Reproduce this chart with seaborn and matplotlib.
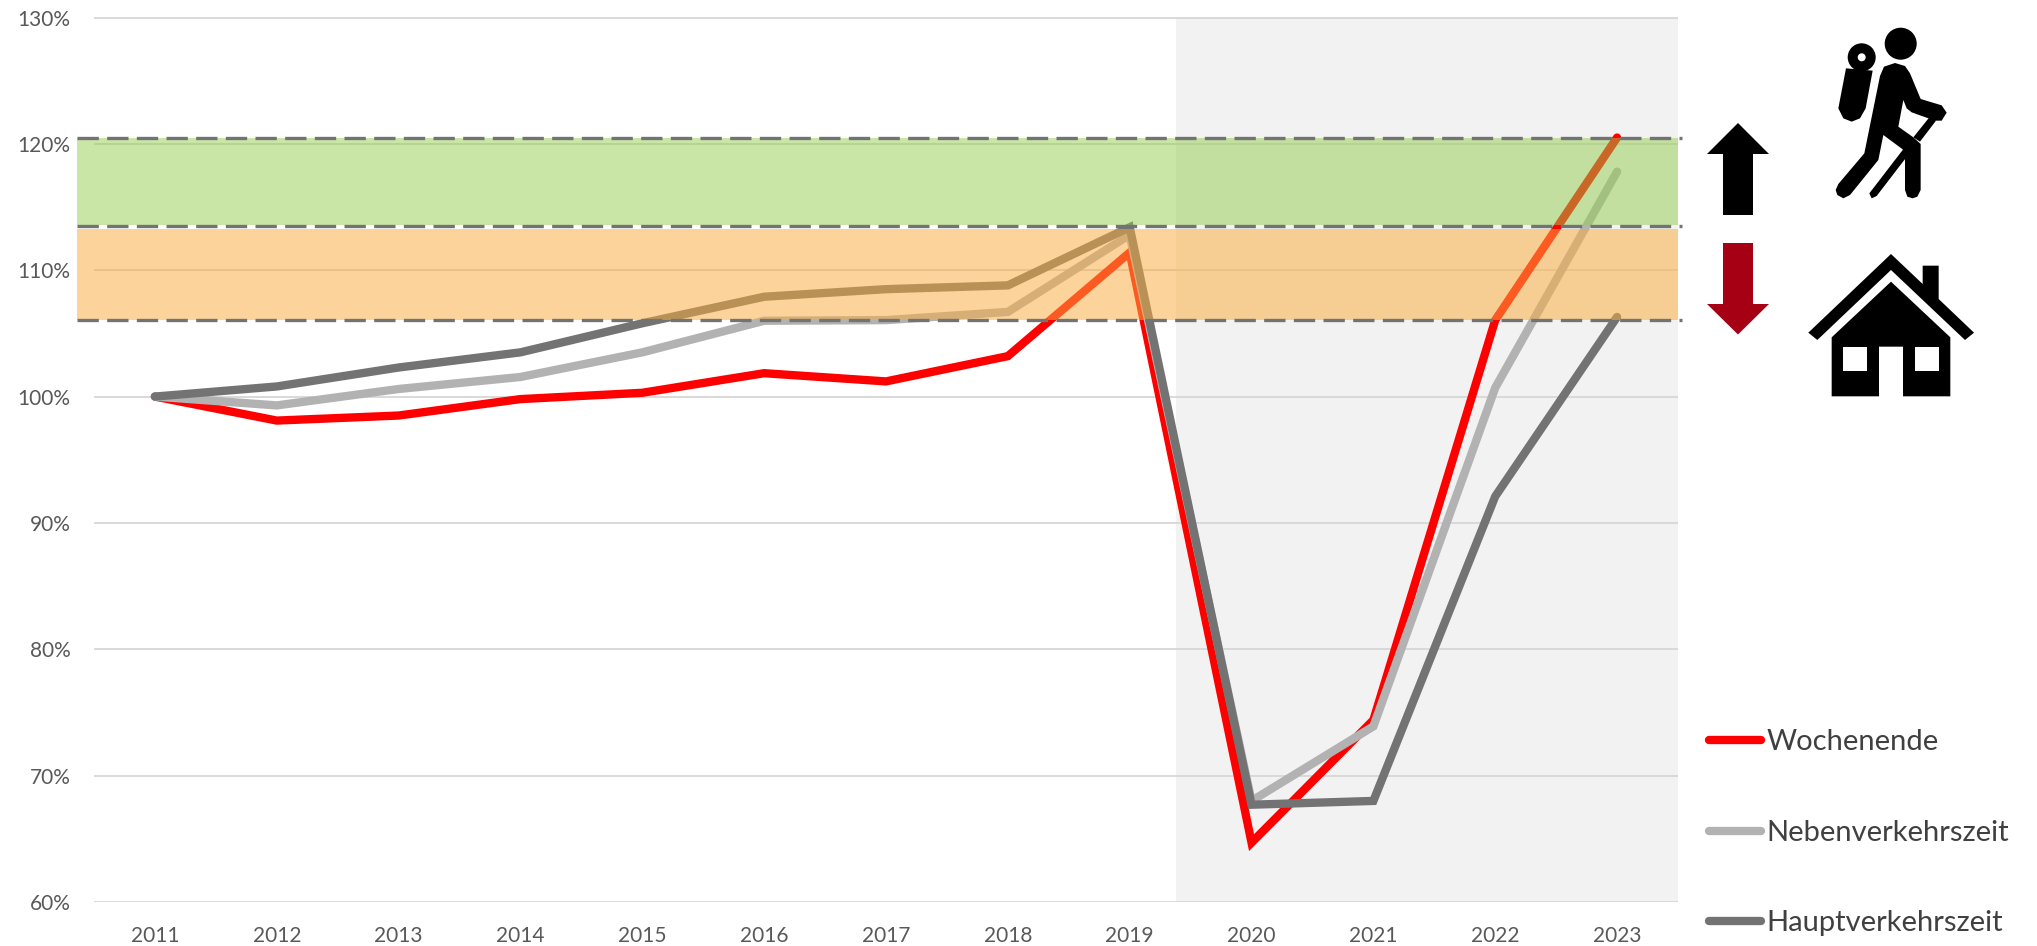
import matplotlib
matplotlib.use("Agg")
import matplotlib.pyplot as plt
import seaborn as sns
import pandas as pd
from matplotlib.patches import Polygon, Circle, Rectangle
from matplotlib.ticker import PercentFormatter

years = ["2011", "2012", "2013", "2014", "2015", "2016", "2017", "2018", "2019", "2020", "2021", "2022", "2023"]
wochenende = [100, 98.1, 98.5, 99.8, 100.3, 101.85, 101.2, 103.2, 111.4, 64.7, 74.4, 106.05, 120.5]
neben = [100, 99.3, 100.6, 101.55, 103.5, 106.0, 106.05, 106.7, 112.8, 68.0, 73.9, 100.7, 117.8]
haupt = [100, 100.8, 102.3, 103.5, 105.8, 107.9, 108.5, 108.8, 113.4, 67.7, 68.0, 92.1, 106.3]
series_names = ["Wochenende", "Nebenverkehrszeit", "Hauptverkehrszeit"]
series_colors = ["#FF0000", "#B2B2B2", "#737373"]
band_limits = [106.05, 113.5, 120.5]

W, H = 2037, 946
sns.set_theme(style="white")
plt.rcParams['font.family'] = ['Lato', 'DejaVu Sans']

df = pd.DataFrame({"Jahr": years, series_names[0]: wochenende, series_names[1]: neben, series_names[2]: haupt})
long_df = df.melt(id_vars="Jahr", var_name="Zeit", value_name="Wert")

fig = plt.figure(figsize=(W / 100, H / 100), dpi=100, facecolor="white")
ax = fig.add_axes([94 / W, 1 - 902 / H, (1678 - 94) / W, (902 - 17.5) / H])

sns.lineplot(data=long_df, x="Jahr", y="Wert", hue="Zeit", hue_order=series_names,
             palette=series_colors, linewidth=6, ax=ax, zorder=3, sort=False,
             solid_capstyle="round", solid_joinstyle="miter", errorbar=None)

ax.set_xlim(-0.5, 12.5)
ax.set_ylim(60, 130)
ax.set_yticks(range(60, 131, 10))
ax.yaxis.set_major_formatter(PercentFormatter(decimals=0))
ax.grid(axis="y", color="#D9D9D9", linewidth=1.4)
ax.set_axisbelow(True)
ax.set_xlabel("")
ax.set_ylabel("")
sns.despine(ax=ax, left=True, bottom=True, right=True, top=True)
ax.tick_params(axis="both", length=0, labelsize=15, labelcolor="#595959")
ax.tick_params(axis="y", pad=17)
ax.tick_params(axis="x", pad=17)

# corona period background, under the grid
ax.axvspan(8.38, 12.5, color="#F2F2F2", lw=0, zorder=0.2)

# bands sit on top of the lines
xr = ax.get_yaxis_transform()
ax.add_patch(Rectangle((-17 / 1584, band_limits[0]), 1 + 17 / 1584, band_limits[1] - band_limits[0] - 0.2,
                       transform=xr, color=(250 / 255, 173 / 255, 63 / 255), alpha=0.52, lw=0, zorder=4, clip_on=False))
ax.add_patch(Rectangle((-17 / 1584, band_limits[1] + 0.05), 1 + 17 / 1584, band_limits[2] - band_limits[1] - 0.05,
                       transform=xr, color=(148 / 255, 206 / 255, 78 / 255), alpha=0.5, lw=0, zorder=4, clip_on=False))
for lim in band_limits:
    ax.plot([-17 / 1584, 1 + 4 / 1584], [lim, lim], transform=xr, color="#737373", lw=2.4,
            dashes=(6.4, 2.5), zorder=5, clip_on=False)

# legend
handles, labels = ax.get_legend_handles_labels()
ax.legend(handles, labels, loc="upper left", bbox_to_anchor=(1709 / W, 1 - 729 / H), bbox_transform=fig.transFigure,
          frameon=False, fontsize=21, labelcolor="#404040", handlelength=1.78, handletextpad=0.2,
          labelspacing=2.22, borderpad=0, borderaxespad=0)

# icons, drawn in pixel coordinates of the figure
ov = fig.add_axes([0, 0, 1, 1], facecolor="none")
ov.set_xlim(0, W)
ov.set_ylim(H, 0)
ov.axis("off")


def z(pts):
    return [(1680 + x / 3, y / 3) for x, y in pts]


arrow_up = [(1738, 123), (1769, 154), (1753, 154), (1753, 215), (1723, 215), (1723, 154), (1707, 154)]
arrow_down = [(1723, 243), (1753, 243), (1753, 304), (1769, 304), (1738, 334.5), (1707, 304), (1723, 304)]
ov.add_patch(Polygon(arrow_up, color="black", lw=0))
ov.add_patch(Polygon(arrow_down, color="#A50014", lw=0))

# hiker
ov.add_patch(Circle((1900.7, 43.7), 16, color="black", lw=0))
ov.add_patch(Circle((1861.7, 57.3), 14, color="black", lw=0))
ov.add_patch(Circle((1861.7, 57.3), 4, color="white", lw=0, zorder=5))
ov.add_patch(Polygon(z([(498, 205), (578, 212), (557, 325), (540, 355), (515, 365), (490, 355), (475, 325)]),
                     color="black", lw=0))
ov.add_patch(Polygon(z([(600, 228), (612, 200), (645, 189), (675, 198), (690, 220), (722, 297), (785, 316), (800, 338),
                        (785, 362), (765, 362), (695, 337), (680, 325), (670, 300), (655, 380), (700, 412), (722, 432),
                        (722, 570), (712, 590), (698, 595), (682, 590), (675, 570), (675, 482), (668, 448), (610, 405),
                        (595, 480), (510, 585), (490, 595), (472, 585), (467, 570), (475, 552), (553, 460)]),
                     color="black", lw=0))
ov.add_patch(Polygon(z([(748, 352), (768, 362), (720, 425), (700, 412)]), color="black", lw=0))
ov.add_patch(Polygon(z([(668, 450), (682, 468), (590, 588), (575, 595), (568, 580)]), color="black", lw=0))

# house
ov.add_patch(Polygon(z([(385, 998), (633, 762), (728, 852), (728, 797), (776, 797), (776, 897), (882, 998),
                        (855, 1020), (633, 810), (412, 1020)]), color="black", lw=0))
ov.add_patch(Polygon(z([(633, 845), (811, 1012), (811, 1189), (669, 1189), (669, 1040), (597, 1040), (597, 1189),
                        (455, 1189), (455, 1012)]), color="black", lw=0))
for wx in (490, 704):
    ov.add_patch(Polygon(z([(wx, 1040), (wx + 72, 1040), (wx + 72, 1112), (wx, 1112)]), color="white", lw=0, zorder=5))

fig.savefig("out.png", dpi=100)
